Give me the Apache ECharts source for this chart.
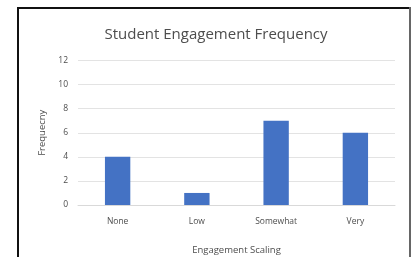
<!DOCTYPE html>
<html>
<head>
<meta charset="utf-8">
<script src="https://cdn.jsdelivr.net/npm/echarts@6/dist/echarts.min.js"></script>
<style>
  html, body { margin: 0; padding: 0; background: #fff; }
  #chart { width: 414px; height: 257px; }
</style>
</head>
<body>
<div id="chart"></div>
<script>
const categories = ["None", "Low", "Somewhat", "Very"];
const frequencies = [4, 1, 7, 6];

const chartDom = document.getElementById("chart");
const myChart = echarts.init(chartDom);
const textColor = "#4d4d4d";
const font = "'Open Sans', sans-serif";

const option = {
  animation: false,
  title: {
    text: "Student Engagement Frequency",
    left: 211,
    textAlign: "center",
    top: 22,
    textStyle: { fontSize: 15, fontWeight: "normal", color: textColor, fontFamily: font },
  },
  grid: { left: 78, right: 19, top: 60.5, bottom: 52, outerBoundsMode: "none" },
  xAxis: {
    type: "category",
    data: categories,
    name: "Engagement Scaling",
    nameLocation: "middle",
    nameGap: 40,
    nameTextStyle: { fontSize: 9.5, color: textColor, fontFamily: font },
    axisLine: { lineStyle: { color: "#d9d9d9" } },
    axisTick: { show: false },
    axisLabel: { fontSize: 8.5, color: textColor, fontFamily: font, margin: 12 },
  },
  yAxis: {
    type: "value",
    min: 0,
    max: 12,
    interval: 2,
    name: "Frequecny",
    nameLocation: "middle",
    nameGap: 31,
    nameTextStyle: { fontSize: 9.5, color: textColor, fontFamily: font },
    axisLine: { show: false },
    axisTick: { show: false },
    axisLabel: { fontSize: 8.5, color: textColor, fontFamily: font, margin: 10 },
    splitLine: { lineStyle: { color: "#e3e3e3" } },
  },
  series: [
    {
      type: "bar",
      data: frequencies,
      barWidth: "32%",
      itemStyle: { color: "#4472c4" },
    },
  ],
  graphic: [
    { type: "rect", shape: { x: 17, y: 7, width: 394, height: 2 }, style: { fill: "#111" } },
    { type: "rect", shape: { x: 17, y: 7, width: 2, height: 250 }, style: { fill: "#111" } },
    { type: "rect", shape: { x: 409, y: 7, width: 2, height: 250 }, style: { fill: "#666" } },
  ],
};

myChart.setOption(option);
</script>
</body>
</html>
